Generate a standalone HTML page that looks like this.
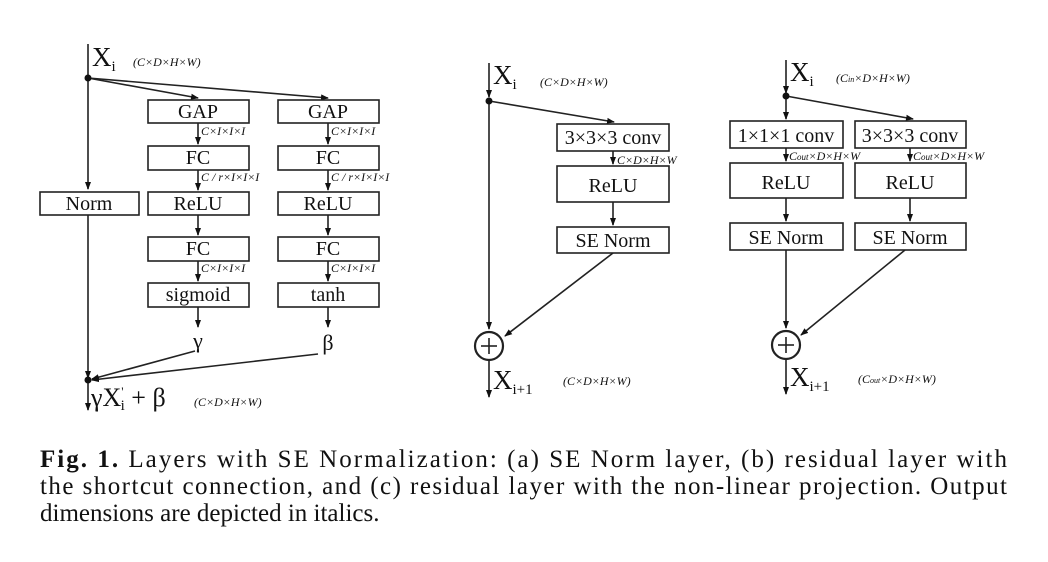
<!DOCTYPE html>
<html><head><meta charset="utf-8"><style>
html,body{margin:0;padding:0;background:#fff}
svg{display:block}
text{font-family:"Liberation Serif",serif;fill:#111}
.b{font-size:20px}
.d{font-size:12px;font-style:italic}
.cap{font-size:25px}
</style></head><body>
<svg width="1048" height="562" viewBox="0 0 1048 562">
<defs>
<marker id="a" markerWidth="8" markerHeight="8" refX="7" refY="4" orient="auto" markerUnits="userSpaceOnUse">
<path d="M0,1 L8,4 L0,7 Z" fill="#111"/></marker>
</defs>
<g stroke="#222" stroke-width="1.6" fill="none">
<line x1="88" y1="44" x2="88" y2="189" marker-end="url(#a)"/>
<line x1="88" y1="215" x2="88" y2="378" marker-end="url(#a)"/>
<line x1="88" y1="382" x2="88" y2="410" marker-end="url(#a)"/>
<line x1="88" y1="78" x2="198" y2="98" marker-end="url(#a)"/>
<line x1="88" y1="78" x2="328" y2="98" marker-end="url(#a)"/>
<rect x="40" y="192" width="99" height="23"/>
<rect x="148" y="100" width="101" height="23"/><rect x="278" y="100" width="101" height="23"/>
<rect x="148" y="146" width="101" height="24"/><rect x="278" y="146" width="101" height="24"/>
<rect x="148" y="192" width="101" height="23"/><rect x="278" y="192" width="101" height="23"/>
<rect x="148" y="237" width="101" height="24"/><rect x="278" y="237" width="101" height="24"/>
<rect x="148" y="283" width="101" height="24"/><rect x="278" y="283" width="101" height="24"/>
<line x1="198" y1="123" x2="198" y2="144" marker-end="url(#a)"/><line x1="328" y1="123" x2="328" y2="144" marker-end="url(#a)"/>
<line x1="198" y1="170" x2="198" y2="190" marker-end="url(#a)"/><line x1="328" y1="170" x2="328" y2="190" marker-end="url(#a)"/>
<line x1="198" y1="215" x2="198" y2="235" marker-end="url(#a)"/><line x1="328" y1="215" x2="328" y2="235" marker-end="url(#a)"/>
<line x1="198" y1="261" x2="198" y2="281" marker-end="url(#a)"/><line x1="328" y1="261" x2="328" y2="281" marker-end="url(#a)"/>
<line x1="198" y1="307" x2="198" y2="327" marker-end="url(#a)"/><line x1="328" y1="307" x2="328" y2="327" marker-end="url(#a)"/>
<line x1="195" y1="351" x2="92" y2="379" marker-end="url(#a)"/>
<line x1="318" y1="354" x2="92" y2="380" marker-end="url(#a)"/>
<line x1="489" y1="63" x2="489" y2="97" marker-end="url(#a)"/>
<line x1="489" y1="101" x2="489" y2="329" marker-end="url(#a)"/>
<line x1="489" y1="101" x2="614" y2="122" marker-end="url(#a)"/>
<rect x="557" y="124" width="112" height="27"/>
<rect x="557" y="166" width="112" height="36"/>
<rect x="557" y="227" width="112" height="26"/>
<line x1="613" y1="151" x2="613" y2="164" marker-end="url(#a)"/>
<line x1="613" y1="202" x2="613" y2="225" marker-end="url(#a)"/>
<line x1="613" y1="253" x2="505" y2="336" marker-end="url(#a)"/>
<circle cx="489" cy="346" r="14" stroke-width="2.2"/>
<line x1="489" y1="360" x2="489" y2="397" marker-end="url(#a)"/>
<line x1="786" y1="60" x2="786" y2="93" marker-end="url(#a)"/>
<line x1="786" y1="96" x2="786" y2="119" marker-end="url(#a)"/>
<line x1="786" y1="96" x2="913" y2="119" marker-end="url(#a)"/>
<rect x="730" y="121" width="113" height="27"/><rect x="855" y="121" width="111" height="27"/>
<rect x="730" y="163" width="113" height="35"/><rect x="855" y="163" width="111" height="35"/>
<rect x="730" y="223" width="113" height="27"/><rect x="855" y="223" width="111" height="27"/>
<line x1="786" y1="148" x2="786" y2="161" marker-end="url(#a)"/><line x1="910" y1="148" x2="910" y2="161" marker-end="url(#a)"/>
<line x1="786" y1="198" x2="786" y2="221" marker-end="url(#a)"/><line x1="910" y1="198" x2="910" y2="221" marker-end="url(#a)"/>
<line x1="786" y1="250" x2="786" y2="328" marker-end="url(#a)"/>
<line x1="905" y1="250" x2="801" y2="335" marker-end="url(#a)"/>
<circle cx="786" cy="345" r="14" stroke-width="2.2"/>
<line x1="786" y1="359" x2="786" y2="394" marker-end="url(#a)"/>
</g>
<g fill="#111">
<circle cx="88" cy="78" r="3.5"/><circle cx="88" cy="380" r="3.5"/>
<circle cx="489" cy="101" r="3.5"/><circle cx="786" cy="96" r="3.5"/>
</g>
<g stroke="#222" stroke-width="1.6">
<line x1="481" y1="346" x2="497" y2="346"/><line x1="489" y1="338" x2="489" y2="354"/>
<line x1="778" y1="345" x2="794" y2="345"/><line x1="786" y1="337" x2="786" y2="353"/>
</g>
<text x="92" y="66" style="font-size:27px">X<tspan style="font-size:15px" dy="5">i</tspan></text>
<text x="133" y="66" class="d">(C×D×H×W)</text>
<g class="b" text-anchor="middle">
<text x="89" y="210">Norm</text>
<text x="198" y="118">GAP</text><text x="328" y="118">GAP</text>
<text x="198" y="164">FC</text><text x="328" y="164">FC</text>
<text x="198" y="210">ReLU</text><text x="328" y="210">ReLU</text>
<text x="198" y="255">FC</text><text x="328" y="255">FC</text>
<text x="198" y="301">sigmoid</text><text x="328" y="301">tanh</text>
<text x="198" y="348" style="font-size:22px">γ</text><text x="328" y="350" style="font-size:22px">β</text>
</g>
<g class="d">
<text x="201" y="135">C×I×I×I</text><text x="331" y="135">C×I×I×I</text>
<text x="201" y="181">C / r×I×I×I</text><text x="331" y="181">C / r×I×I×I</text>
<text x="201" y="272">C×I×I×I</text><text x="331" y="272">C×I×I×I</text>
</g>
<text x="91" y="406" style="font-size:26px">γX<tspan style="font-size:13px" dy="-10">'</tspan><tspan style="font-size:15px" dy="14" dx="-3">i</tspan><tspan dy="-4"> + β</tspan></text>
<text x="194" y="406" class="d">(C×D×H×W)</text>
<text x="493" y="84" style="font-size:27px">X<tspan style="font-size:15px" dy="5">i</tspan></text>
<text x="540" y="86" class="d">(C×D×H×W)</text>
<g class="b" text-anchor="middle">
<text x="613" y="144">3×3×3 conv</text>
<text x="613" y="192">ReLU</text>
<text x="613" y="247">SE Norm</text>
<text x="786" y="142">1×1×1 conv</text><text x="910" y="142">3×3×3 conv</text>
<text x="786" y="189">ReLU</text><text x="910" y="189">ReLU</text>
<text x="786" y="244">SE Norm</text><text x="910" y="244">SE Norm</text>
</g>
<text x="617" y="164" class="d">C×D×H×W</text>
<text x="493" y="389" style="font-size:27px">X<tspan style="font-size:15px" dy="5">i+1</tspan></text>
<text x="563" y="385" class="d">(C×D×H×W)</text>
<text x="789" y="160" class="d">C<tspan style="font-size:9px">out</tspan>×D×H×W</text>
<text x="913" y="160" class="d">C<tspan style="font-size:9px">out</tspan>×D×H×W</text>
<text x="790" y="81" style="font-size:27px">X<tspan style="font-size:15px" dy="5">i</tspan></text>
<text x="836" y="82" class="d">(C<tspan style="font-size:8px">in</tspan>×D×H×W)</text>
<text x="790" y="386" style="font-size:27px">X<tspan style="font-size:15px" dy="5">i+1</tspan></text>
<text x="858" y="383" class="d">(C<tspan style="font-size:8px">out</tspan>×D×H×W)</text>
<text x="40" y="467" class="cap" textLength="967" lengthAdjust="spacing"><tspan font-weight="bold">Fig. 1.</tspan> Layers with SE Normalization: (a) SE Norm layer, (b) residual layer with</text>
<text x="40" y="494" class="cap" textLength="967" lengthAdjust="spacing">the shortcut connection, and (c) residual layer with the non-linear projection. Output</text>
<text x="40" y="521" class="cap">dimensions are depicted in italics.</text>
</svg>
</body></html>
